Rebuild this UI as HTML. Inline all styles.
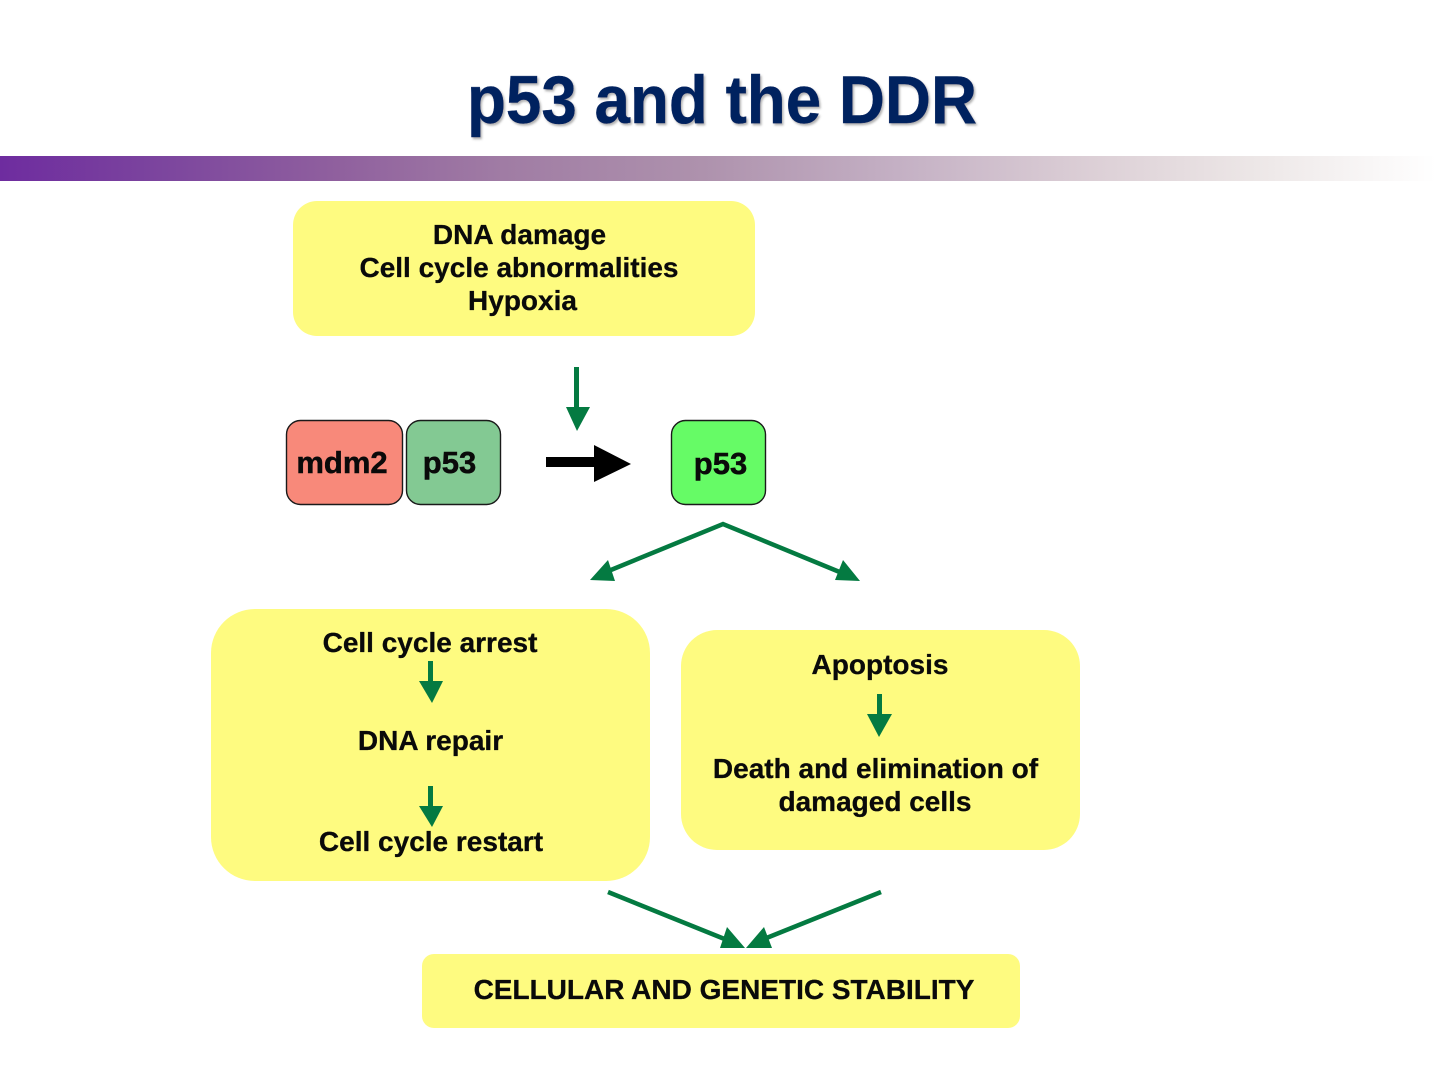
<!DOCTYPE html>
<html><head><meta charset="utf-8">
<style>
html,body{margin:0;padding:0;background:#fff}
body{width:1440px;height:1080px;position:relative;overflow:hidden;font-family:"Liberation Sans",sans-serif}
svg{position:absolute;left:0;top:0}
</style></head>
<body>
<svg width="1440" height="1080" viewBox="0 0 1440 1080">
<defs>
<linearGradient id="g" x1="0" x2="1" y1="0" y2="0">
<stop offset="0" stop-color="#6e2c9f"/>
<stop offset="0.12" stop-color="#7d479e"/>
<stop offset="0.23" stop-color="#8f5f9e"/>
<stop offset="0.35" stop-color="#a07ca4"/>
<stop offset="0.49" stop-color="#ae92ad"/>
<stop offset="0.625" stop-color="#c4b0c4"/>
<stop offset="0.76" stop-color="#dccfd6"/>
<stop offset="0.87" stop-color="#ece6e6"/>
<stop offset="1" stop-color="#ffffff"/>
</linearGradient>
<filter id="sh" x="-5%" y="-20%" width="110%" height="140%">
<feDropShadow dx="1.5" dy="2" stdDeviation="1" flood-color="#555" flood-opacity="0.45"/>
</filter>
</defs>
<rect x="0" y="156" width="1436" height="25" fill="url(#g)"/>
<text x="467" y="123" textLength="510" lengthAdjust="spacingAndGlyphs" font-size="68" font-weight="bold" fill="#03215f" stroke="#03215f" stroke-width="0.4" filter="url(#sh)">p53 and the DDR</text>

<rect x="293" y="201" width="462" height="135" rx="24" fill="#fefb80"/>
<rect x="211" y="609" width="439" height="272" rx="44" fill="#fefb80"/>
<rect x="681" y="630" width="399" height="220" rx="36" fill="#fefb80"/>
<rect x="422" y="954" width="598" height="74" rx="12" fill="#fefb80"/>

<rect x="286.500" y="420.500" width="116" height="84" rx="14" fill="#f8897a" stroke="#1a1a1a" stroke-width="1.4"/>
<rect x="406.500" y="420.500" width="94" height="84" rx="14" fill="#83c993" stroke="#1a1a1a" stroke-width="1.4"/>
<rect x="671.500" y="420.500" width="94" height="84" rx="14" fill="#66fb66" stroke="#1a1a1a" stroke-width="1.4"/>

<g font-size="31" font-weight="bold" fill="#0a0a0a" stroke="#0a0a0a" stroke-width="0.5" text-anchor="middle">
<text x="342" y="473">mdm2</text>
<text x="449.500" y="473">p53</text>
<text x="720.500" y="474">p53</text>
</g>

<g fill="#047a41" stroke="none">
<rect x="574" y="367" width="5" height="41"/><polygon points="566,407 590,407 577,431"/>
<rect x="428" y="661" width="5" height="21"/><polygon points="419,681 443,681 432,703"/>
<rect x="877" y="694" width="5" height="22"/><polygon points="867,714 892,714 879,737"/>
<rect x="428" y="786" width="5" height="21"/><polygon points="419,806 443,806 432,827"/>
</g>

<rect x="546" y="457" width="50" height="10" fill="#000"/>
<polygon points="594,445 631,464 594,482" fill="#000"/>

<g stroke="#047a41" stroke-width="4.500" fill="none">
<polyline points="606,572 723,524 842,573"/>
<line x1="608" y1="892" x2="727" y2="940"/>
<line x1="881" y1="892" x2="764" y2="939"/>
</g>
<g fill="#047a41">
<polygon points="590,580 608,560 615,581"/>
<polygon points="860,581 843,560 835,580"/>
<polygon points="745,948 727,927 720,948"/>
<polygon points="746,948 764,927 772,948"/>
</g>

<g font-size="28" font-weight="bold" fill="#0a0a0a" stroke="#0a0a0a" stroke-width="0.3" text-anchor="middle">
<text x="519.500" y="244">DNA damage</text>
<text x="519" y="277">Cell cycle abnormalities</text>
<text x="522.500" y="310">Hypoxia</text>
<text x="430" y="652">Cell cycle arrest</text>
<text x="430.500" y="750">DNA repair</text>
<text x="431" y="851">Cell cycle restart</text>
<text x="880" y="674">Apoptosis</text>
<text x="875.500" y="778">Death and elimination of</text>
<text x="875" y="811">damaged cells</text>
<text x="724" y="999">CELLULAR AND GENETIC STABILITY</text>
</g>
</svg>
</body></html>
